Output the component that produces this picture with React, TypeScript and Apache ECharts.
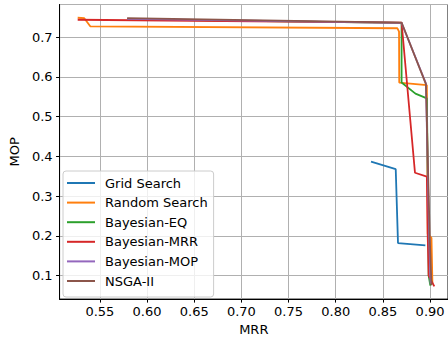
import React, { useEffect, useRef } from "react";
import * as echarts from "echarts";

const seriesNames = ["Grid Search", "Random Search", "Bayesian-EQ", "Bayesian-MRR", "Bayesian-MOP", "NSGA-II"];
const seriesColors = ["#1f77b4", "#ff7f0e", "#2ca02c", "#d62728", "#9467bd", "#8c564b"];

const gridX = [0.8374, 0.8636, 0.866, 0.895];
const gridY = [0.387, 0.368, 0.182, 0.176];

const randomX = [0.5265, 0.5335, 0.5398, 0.8654, 0.8671, 0.8673, 0.8966, 0.8975, 0.9015, 0.9025];
const randomY = [0.749, 0.748, 0.7276, 0.7226, 0.714, 0.586, 0.5794, 0.205, 0.195, 0.079];

const eqX = [0.5789, 0.8698, 0.8698, 0.8845, 0.8966, 0.8978, 0.8985, 0.9003];
const eqY = [0.745, 0.736, 0.586, 0.558, 0.546, 0.3, 0.1, 0.075];

const mrrX = [0.5265, 0.8698, 0.884, 0.8966, 0.8975, 0.8985, 0.9045];
const mrrY = [0.744, 0.737, 0.359, 0.349, 0.2, 0.1, 0.073];

const mopX = [0.5789, 0.8698, 0.8956, 0.899, 0.9005];
const mopY = [0.746, 0.736, 0.584, 0.2, 0.08];

const nsgaX = [0.5789, 0.8698, 0.8956, 0.8996, 0.9015];
const nsgaY = [0.748, 0.737, 0.582, 0.2, 0.076];

const allX = [gridX, randomX, eqX, mrrX, mopX, nsgaX];
const allY = [gridY, randomY, eqY, mrrY, mopY, nsgaY];

const FONT = "DejaVu Sans";

export default function App() {
  const ref = useRef<HTMLDivElement>(null);
  useEffect(() => {
    if (!ref.current) return;
    const chart = echarts.init(ref.current, undefined, { renderer: "svg" });
    const series = seriesNames.map((name, i) => ({
      name,
      type: "line",
      data: allX[i].map((x, j) => [x, allY[i][j]]),
      showSymbol: false,
      symbol: "none",
      lineStyle: { color: seriesColors[i], width: 1.8 },
      itemStyle: { color: seriesColors[i] },
      z: 2 + i,
    }));
    chart.setOption({
      animation: false,
      backgroundColor: "#ffffff",
      textStyle: { fontFamily: FONT },
      grid: {
        left: 55,
        right: 0,
        top: 4.5,
        bottom: 341 - 299.5,
        show: true,
        borderColor: "#000000",
        borderWidth: 1,
        backgroundColor: "transparent",
      },
      legend: {
        orient: "vertical",
        left: 63,
        top: 171,
        icon: "rect",
        itemWidth: 28,
        itemHeight: 2,
        itemGap: 4.6,
        padding: [4.5, 6, 8.5, 4],
        backgroundColor: "rgba(255,255,255,0.8)",
        borderColor: "#cccccc",
        borderWidth: 1,
        borderRadius: 3,
        textStyle: { fontFamily: FONT, fontSize: 13, color: "#000", lineHeight: 15, padding: [0, 0, 0, 5] },
        data: seriesNames,
      },
      xAxis: {
        type: "value",
        min: 0.5073,
        max: 0.919,
        splitNumber: 8,
        name: "MRR",
        nameLocation: "middle",
        nameGap: 23,
        nameTextStyle: { fontFamily: FONT, fontSize: 13, color: "#000" },
        axisLine: { show: true, lineStyle: { color: "#000", width: 1 } },
        axisTick: { show: true, inside: false, length: 3.5, lineStyle: { color: "#000" } },
        axisLabel: {
          fontFamily: FONT,
          fontSize: 13,
          color: "#000",
          margin: 6,
          showMinLabel: false,
          showMaxLabel: false,
          formatter: (v: number) => v.toFixed(2),
        },
        splitLine: { show: true, lineStyle: { color: "#b0b0b0", width: 1 } },
      },
      yAxis: {
        type: "value",
        min: 0.041,
        max: 0.7824,
        splitNumber: 7,
        name: "MOP",
        nameLocation: "middle",
        nameGap: 34,
        nameRotate: 90,
        nameTextStyle: { fontFamily: FONT, fontSize: 13, color: "#000" },
        axisLine: { show: true, lineStyle: { color: "#000", width: 1 } },
        axisTick: { show: true, inside: false, length: 3.5, lineStyle: { color: "#000" } },
        axisLabel: {
          fontFamily: FONT,
          fontSize: 13,
          color: "#000",
          margin: 7,
          showMinLabel: false,
          showMaxLabel: false,
          formatter: (v: number) => v.toFixed(1),
        },
        splitLine: { show: true, lineStyle: { color: "#b0b0b0", width: 1 } },
      },
      series,
    });
    return () => chart.dispose();
  }, []);
  return (
    <div
      ref={ref}
      style={{ position: "fixed", left: 0, top: 0, width: 448, height: 341, background: "#fff" }}
    />
  );
}
